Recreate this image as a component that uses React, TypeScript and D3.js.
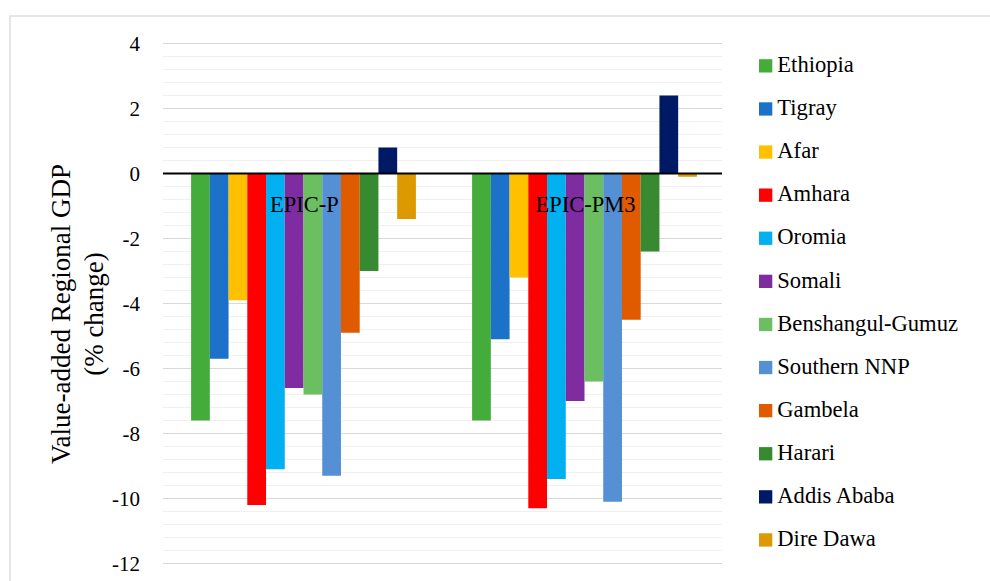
import React from "react";
import * as d3 from "d3";

const scenarios = ["EPIC-P", "EPIC-PM3"];
const regions = [
  "Ethiopia", "Tigray", "Afar", "Amhara", "Oromia", "Somali",
  "Benshangul-Gumuz", "Southern NNP", "Gambela", "Harari", "Addis Ababa", "Dire Dawa",
];
const colors = [
  "#43ac3b", "#1b72c8", "#ffc000", "#ff0000", "#00b0f0", "#7f2ca0",
  "#6bbf60", "#558fd4", "#e05a00", "#378a2f", "#001965", "#dc9a00",
];
const epicP = [-7.6, -5.7, -3.9, -10.2, -9.1, -6.6, -6.8, -9.3, -4.9, -3.0, 0.8, -1.4];
const epicPM3 = [-7.6, -5.1, -3.2, -10.3, -9.4, -7.0, -6.4, -10.1, -4.5, -2.4, 2.4, -0.1];
const seriesValues = [epicP, epicPM3];
const yTicks = [4, 2, 0, -2, -4, -6, -8, -10, -12];

const W = 990, H = 581;
const plot = { left: 163, right: 722, top: 43.5, bottom: 563.5 };
const serif = "'Liberation Serif', 'Times New Roman', serif";

export default function App() {
  const y = d3.scaleLinear().domain([-12, 4]).range([plot.bottom, plot.top]);
  // bands reach a touch past the grid so the second group lands where the original does
  const x0 = d3.scaleBand<string>().domain(scenarios).range([plot.left, plot.right + 3]);
  const bw = x0.bandwidth();
  const x1 = d3.scaleBand<string>().domain(regions).range([bw * 0.1, bw * 0.9]);
  const minor = d3.range(-12, 4.0001, 0.4);

  return (
    <svg width={W} height={H} style={{ position: "absolute", left: 0, top: 0, background: "#fff" }}>
      <rect x={10} y={16} width={W} height={H} fill="#fff" stroke="#d9d9d9" strokeWidth={1.3} />

      {/* minor + major gridlines */}
      <g>
        {minor.map((v, i) => (
          <line key={"m" + i} x1={plot.left} x2={plot.right} y1={y(v)} y2={y(v)} stroke="#f0f0f0" strokeWidth={1} />
        ))}
        {yTicks.map((v) => (
          <line key={"M" + v} x1={plot.left} x2={plot.right} y1={y(v)} y2={y(v)} stroke="#d9d9d9" strokeWidth={1.2} />
        ))}
      </g>

      {/* bars */}
      {scenarios.map((s, si) => (
        <g key={s} transform={`translate(${x0(s)},0)`}>
          {regions.map((r, ri) => {
            const v = seriesValues[si][ri];
            return (
              <rect
                key={r}
                x={x1(r)}
                width={x1.bandwidth()}
                y={Math.min(y(v), y(0))}
                height={Math.abs(y(v) - y(0))}
                fill={colors[ri]}
              />
            );
          })}
        </g>
      ))}

      <line x1={plot.left} x2={plot.right} y1={y(0)} y2={y(0)} stroke="#000" strokeWidth={2} />

      {/* category labels */}
      {scenarios.map((s) => (
        <text key={s} x={(x0(s) as number) + bw / 2 + 1} y={212} textAnchor="middle"
          fontFamily={serif} fontSize={22.5} fill="#000">{s}</text>
      ))}

      {/* y tick labels */}
      {yTicks.map((v) => (
        <text key={v} x={140} y={y(v) + 7} textAnchor="end" fontFamily={serif} fontSize={21} fill="#000">{v}</text>
      ))}

      {/* y axis title */}
      <g transform="translate(70,314) rotate(-90)">
        <text x={0} y={0} textAnchor="middle" fontFamily={serif} fontSize={27} fill="#000">Value-added Regional GDP</text>
        <text x={0} y={33} textAnchor="middle" fontFamily={serif} fontSize={27} fill="#000">(% change)</text>
      </g>

      {/* legend */}
      {regions.map((r, i) => {
        const cy = 65.8 + i * 43.1;
        return (
          <g key={r}>
            <rect x={759} y={cy - 6.6} width={13.3} height={13.3} fill={colors[i]} />
            <text x={777.3} y={cy + 6.2} fontFamily={serif} fontSize={22.6} fill="#000">{r}</text>
          </g>
        );
      })}
    </svg>
  );
}
